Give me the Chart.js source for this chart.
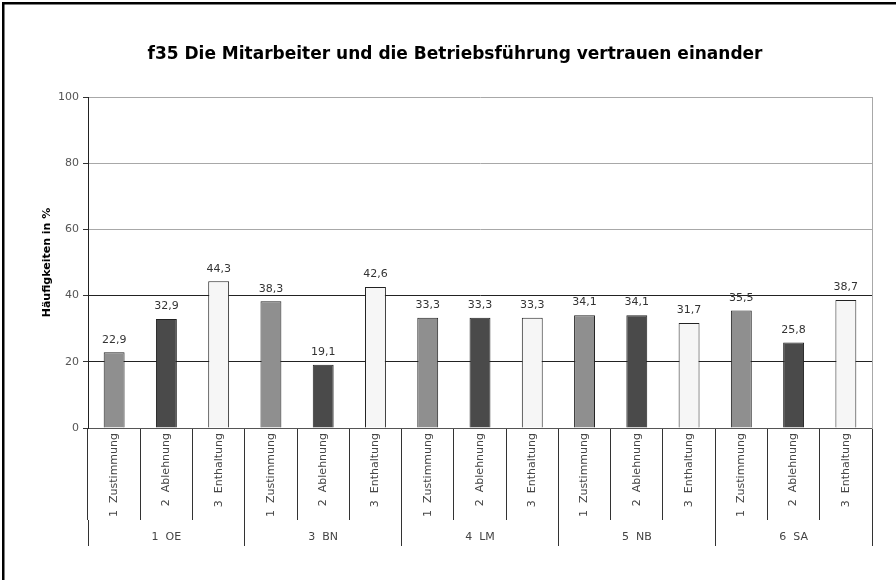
<!DOCTYPE html>
<html>
<head>
<meta charset="utf-8">
<script src="https://cdn.jsdelivr.net/npm/chart.js@4"></script>
<style>
  html, body { margin: 0; padding: 0; background: #fff; }
  canvas { display: block; }
</style>
</head>
<body>
<canvas id="c" width="896" height="580"></canvas>
<script>
// ---- data ----
const groups = ['1  OE', '3  BN', '4  LM', '5  NB', '6  SA'];
const answers = ['1  Zustimmung', '2  Ablehnung', '3  Enthaltung'];
const zustimmung = [22.9, 38.3, 33.3, 34.1, 35.5];
const ablehnung  = [32.9, 19.1, 33.3, 34.1, 25.8];
const enthaltung = [44.3, 42.6, 33.3, 31.7, 38.7];
const yTicks = [0, 20, 40, 60, 80, 100];
const titleText = 'f35 Die Mitarbeiter und die Betriebsführung vertrauen einander';
const yTitle = 'Häufigkeiten in %';

const answerColors = ['#8f8f8f', '#4a4a4a', '#f6f6f6'];

// build flat category list (group x answer)
const series = [zustimmung, ablehnung, enthaltung];
const labels = [], values = [], colors = [];
groups.forEach((g, gi) => {
  answers.forEach((a, ai) => {
    labels.push(a);
    values.push(series[ai][gi]);
    colors.push(answerColors[ai]);
  });
});

const FONT = 'DejaVu Sans, Verdana, sans-serif';

const framePlugin = {
  id: 'frame',
  beforeDraw(chart) {
    const ctx = chart.ctx;
    ctx.save();
    ctx.fillStyle = '#fff';
    ctx.fillRect(0, 0, chart.width, chart.height);
    ctx.fillStyle = '#000';
    ctx.fillRect(2, 2, chart.width - 2, 2.5);
    ctx.fillRect(2, 2, 2.5, chart.height - 2);
    ctx.restore();
  }
};

const valueLabels = {
  id: 'valueLabels',
  afterDatasetsDraw(chart) {
    const ctx = chart.ctx;
    const meta = chart.getDatasetMeta(0);
    const data = chart.data.datasets[0].data;
    ctx.save();
    ctx.font = '11px ' + FONT;
    ctx.fillStyle = '#333';
    ctx.textAlign = 'center';
    ctx.textBaseline = 'middle';
    meta.data.forEach((bar, i) => {
      ctx.fillText(data[i].toFixed(1).replace('.', ','), bar.x, bar.y - 12.5);
    });
    ctx.restore();
  }
};

new Chart(document.getElementById('c'), {
  type: 'bar',
  data: {
    labels: labels,
    datasets: [{
      data: values,
      backgroundColor: colors,
      borderColor: '#222',
      borderWidth: 1,
      barPercentage: 0.4,
      categoryPercentage: 1.0
    }]
  },
  options: {
    responsive: false,
    animation: false,
    devicePixelRatio: 1,
    layout: { padding: { left: 38, right: 24, top: 0, bottom: 0 } },
    plugins: {
      legend: { display: false },
      tooltip: { enabled: false },
      title: {
        display: true,
        text: titleText,
        color: '#000',
        font: { family: FONT, size: 17, weight: 'bold' },
        padding: { top: 44, bottom: 32.6 }
      }
    },
    scales: {
      x: {
        type: 'category',
        position: 'bottom',
        weight: 0,
        grid: {
          display: true,
          offset: true,
          drawOnChartArea: false,
          drawTicks: true,
          tickLength: 92,
          tickColor: '#333',
          lineWidth: 1
        },
        border: { display: true, color: '#555', width: 1 },
        ticks: {
          autoSkip: false,
          minRotation: 90,
          maxRotation: 90,
          padding: -87,
          color: '#444',
          font: { family: FONT, size: 11 }
        },
        afterFit(scale) { scale.height = 92; }
      },
      x2: {
        type: 'category',
        labels: groups,
        position: 'bottom',
        weight: 1,
        offset: true,
        grid: {
          display: true,
          offset: true,
          drawOnChartArea: false,
          drawTicks: true,
          tickLength: 26,
          tickColor: '#333',
          lineWidth: 1
        },
        border: { display: false },
        ticks: {
          autoSkip: false,
          maxRotation: 0,
          minRotation: 0,
          padding: -15,
          color: '#444',
          font: { family: FONT, size: 11 }
        },
        afterFit(scale) { scale.height = 60; }
      },
      y: {
        type: 'linear',
        position: 'left',
        min: 0,
        max: 100,
        afterBuildTicks(scale) { scale.ticks = yTicks.map(v => ({ value: v })); },
        grid: {
          color: (c) => (c.tick && c.tick.value >= 60) ? '#a8a8a8' : '#222',
          lineWidth: 1,
          drawTicks: true,
          tickLength: 5,
          tickColor: '#333'
        },
        border: { display: true, color: '#222', width: 1 },
        ticks: {
          padding: 4,
          color: '#555',
          font: { family: FONT, size: 11 }
        },
        title: {
          display: true,
          text: yTitle,
          color: '#000',
          font: { family: FONT, size: 11, weight: 'bold' },
          padding: { top: 2.4, bottom: 0 }
        },
        afterFit(scale) { scale.width = 50; }
      },
      y2: {
        type: 'linear',
        position: 'right',
        min: 0,
        max: 100,
        grid: { drawOnChartArea: false, drawTicks: false },
        border: { display: true, color: '#a8a8a8', width: 1 },
        ticks: { display: false },
        afterFit(scale) { scale.width = 0; }
      }
    }
  },
  plugins: [framePlugin, valueLabels]
});
</script>
</body>
</html>
